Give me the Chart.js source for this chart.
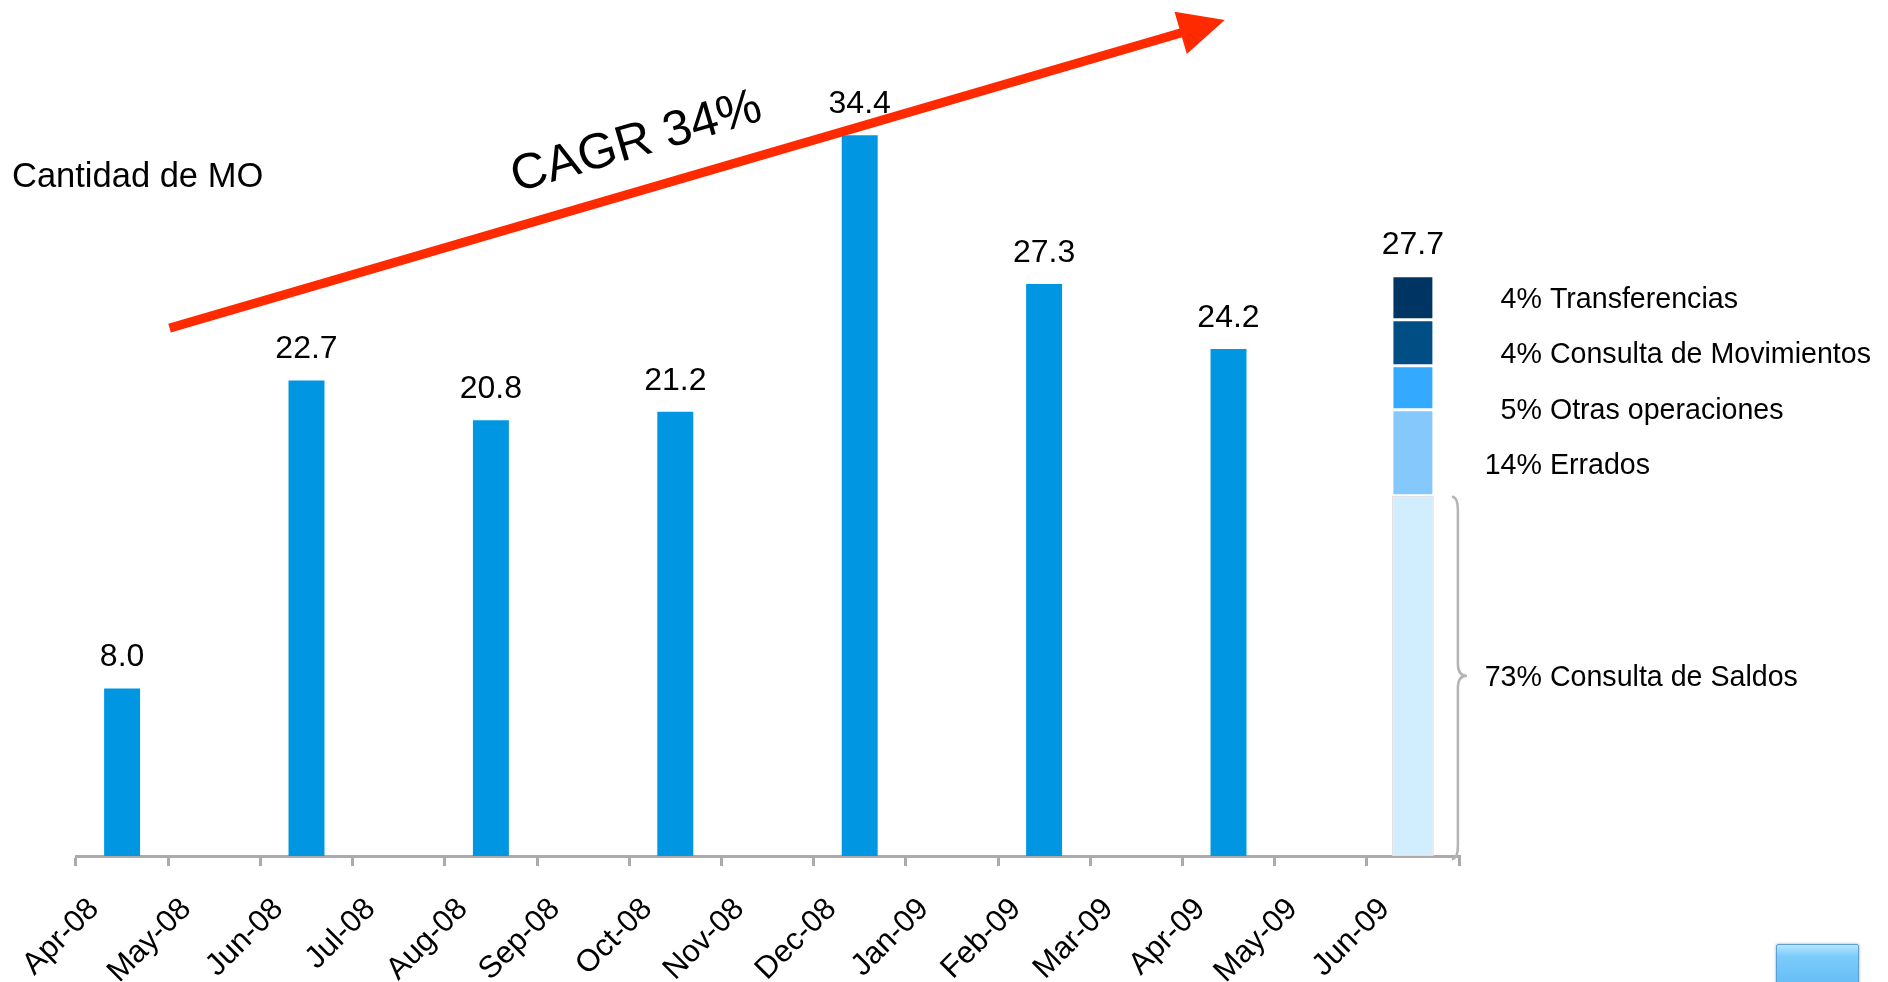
<!DOCTYPE html>
<html>
<head>
<meta charset="utf-8">
<script src="https://cdn.jsdelivr.net/npm/chart.js@4.4.0/dist/chart.umd.min.js"></script>
<style>
  html, body { margin: 0; padding: 0; background: #fff; }
  #wrap { position: relative; width: 1888px; height: 982px; overflow: hidden; }
  #boton {
    position: absolute; left: 1776px; top: 944px; width: 81px; height: 46px;
    border: 1px solid #5b9fd6; border-radius: 2px;
    background: linear-gradient(#b4e6ff 0%, #7ccbfb 25%, #5fb9f3 100%);
    box-shadow: 0 0 3px rgba(0,0,0,0.35);
  }
</style>
</head>
<body>
<div id="wrap">
  <canvas id="grafico" width="1888" height="982"></canvas>
  <div id="boton"></div>
</div>
<script>
// Datos
const meses = ["Apr-08", "May-08", "Jun-08", "Jul-08", "Aug-08", "Sep-08", "Oct-08", "Nov-08",
  "Dec-08", "Jan-09", "Feb-09", "Mar-09", "Apr-09", "May-09", "Jun-09"];
const cantidadMO = [8.0, null, 22.7, null, 20.8, null, 21.2, null, 34.4, null, 27.3, null, 24.2, null, null];

// Desglose de Jun-09 (de abajo hacia arriba)
const segNombres = ["Consulta de Saldos", "Errados", "Otras operaciones", "Consulta de Movimientos", "Transferencias"];
const segPct = ["73%", "14%", "5%", "4%", "4%"];
const segValores = [17.2, 4.1, 2.1, 2.2, 2.1];
const segColores = ["#D0EEFD", "#85C8FC", "#33AAFF", "#004E84", "#003462"];
const totalJun09 = 27.7;

// Flecha CAGR (indice de mes, valor)
const flechaInicio = [0.515, 25.2];
const flechaFin = [11.96, 39.9];
const textoCAGR = "CAGR 34%";
const tituloEje = "Cantidad de MO";

const fuente = '"Liberation Sans", Arial, sans-serif';
const idxJun09 = meses.length - 1;

const datasets = [{
  label: "Cantidad de MO",
  data: cantidadMO,
  backgroundColor: "#0096E1",
  barPercentage: 0.39,
  categoryPercentage: 1
}];
segValores.forEach((v, i) => {
  const data = meses.map((m, j) => (j === idxJun09 ? v : null));
  datasets.push({
    label: segNombres[i],
    data: data,
    backgroundColor: segColores[i],
    borderColor: i === 0 ? "#E2E2E2" : "#FFFFFF",
    borderWidth: 1.5,
    borderSkipped: false,
    barPercentage: 0.455,
    categoryPercentage: 1
  });
});

const anotaciones = {
  id: "anotaciones",
  afterDatasetsDraw(chart) {
    const ctx = chart.ctx;
    const x = chart.scales.x;
    const y = chart.scales.y;
    ctx.save();

    // valores sobre las barras
    ctx.fillStyle = "#000";
    ctx.font = "32px " + fuente;
    ctx.textAlign = "center";
    ctx.textBaseline = "alphabetic";
    const barras = chart.getDatasetMeta(0).data;
    cantidadMO.forEach((v, i) => {
      if (v === null) return;
      ctx.fillText(v.toFixed(1), barras[i].x, barras[i].y - 22);
    });
    const arriba = chart.getDatasetMeta(segValores.length).data[idxJun09];
    ctx.fillText(totalJun09.toFixed(1), arriba.x, arriba.y - 22);

    // etiquetas del desglose
    ctx.font = "28.6px " + fuente;
    ctx.textBaseline = "middle";
    const xPct = arriba.x + 129;
    const yPrimero = (arriba.y + arriba.base) / 2 + 2;
    for (let k = 0; k < 4; k++) {
      const j = segValores.length - 1 - k;
      const yy = yPrimero + k * 55.5;
      ctx.textAlign = "right";
      ctx.fillText(segPct[j], xPct, yy);
      ctx.textAlign = "left";
      ctx.fillText(segNombres[j], xPct + 8, yy);
    }
    const saldos = chart.getDatasetMeta(1).data[idxJun09];
    const ySaldos = (saldos.y + saldos.base) / 2;
    ctx.textAlign = "right";
    ctx.fillText(segPct[0], xPct, ySaldos + 2);
    ctx.textAlign = "left";
    ctx.fillText(segNombres[0], xPct + 8, ySaldos + 2);

    // llave
    const bx0 = saldos.x + 39, bx1 = bx0 + 6, bxp = bx0 + 15;
    const bTop = saldos.y + 1, bBot = y.getPixelForValue(0) + 3;
    ctx.strokeStyle = "#B4B4B4";
    ctx.lineWidth = 2.5;
    ctx.beginPath();
    ctx.moveTo(bx0, bTop);
    ctx.quadraticCurveTo(bx1, bTop, bx1, bTop + 14);
    ctx.lineTo(bx1, ySaldos - 12);
    ctx.quadraticCurveTo(bx1, ySaldos, bxp, ySaldos);
    ctx.quadraticCurveTo(bx1, ySaldos, bx1, ySaldos + 12);
    ctx.lineTo(bx1, bBot - 14);
    ctx.quadraticCurveTo(bx1, bBot, bx0, bBot);
    ctx.stroke();

    // flecha CAGR
    const p0x = x.getPixelForValue(flechaInicio[0]), p0y = y.getPixelForValue(flechaInicio[1]);
    const p1x = x.getPixelForValue(flechaFin[0]), p1y = y.getPixelForValue(flechaFin[1]);
    const ang = Math.atan2(p1y - p0y, p1x - p0x);
    const dx = Math.cos(ang), dy = Math.sin(ang);
    const cabeza = 46, ancho = 22;
    ctx.strokeStyle = "#FF2A00";
    ctx.fillStyle = "#FF2A00";
    ctx.lineWidth = 9;
    ctx.beginPath();
    ctx.moveTo(p0x, p0y);
    ctx.lineTo(p1x - dx * (cabeza - 4), p1y - dy * (cabeza - 4));
    ctx.stroke();
    ctx.beginPath();
    ctx.moveTo(p1x, p1y);
    ctx.lineTo(p1x - dx * cabeza - dy * ancho, p1y - dy * cabeza + dx * ancho);
    ctx.lineTo(p1x - dx * cabeza + dy * ancho, p1y - dy * cabeza - dx * ancho);
    ctx.closePath();
    ctx.fill();

    // texto CAGR
    const t = 0.455;
    const cx = p0x + (p1x - p0x) * t + dy * 47;
    const cy = p0y + (p1y - p0y) * t - dx * 47;
    ctx.save();
    ctx.translate(cx, cy);
    ctx.rotate(ang);
    ctx.fillStyle = "#000";
    ctx.font = "50px " + fuente;
    ctx.textAlign = "center";
    ctx.textBaseline = "middle";
    ctx.fillText(textoCAGR, 0, 0);
    ctx.restore();

    // titulo
    ctx.fillStyle = "#000";
    ctx.font = "34.5px " + fuente;
    ctx.textAlign = "left";
    ctx.textBaseline = "middle";
    ctx.fillText(tituloEje, 12, 177);

    ctx.restore();
  }
};

new Chart(document.getElementById("grafico"), {
  type: "bar",
  data: { labels: meses, datasets: datasets },
  options: {
    responsive: false,
    animation: false,
    layout: { padding: { top: 18, left: 76, right: 429, bottom: 0 } },
    plugins: { legend: { display: false }, tooltip: { enabled: false } },
    scales: {
      x: {
        stacked: true,
        offset: true,
        grid: { display: true, offset: true, drawOnChartArea: false, drawTicks: true, tickLength: 10, color: "#ABABAB", lineWidth: 3 },
        border: { display: true, color: "#ABABAB", width: 3 },
        ticks: {
          color: "#000",
          font: { family: fuente, size: 31 },
          minRotation: 45,
          maxRotation: 45,
          autoSkip: false,
          labelOffset: -28,
          padding: 25
        },
        afterFit(scale) { scale.height = 126; }
      },
      y: { stacked: true, display: false, min: 0, max: 40 }
    }
  },
  plugins: [anotaciones]
});
</script>
</body>
</html>
